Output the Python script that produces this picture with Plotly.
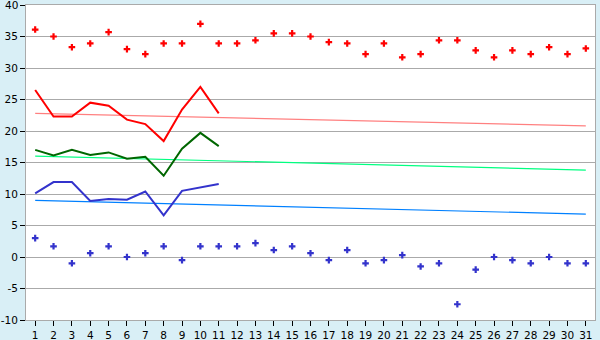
import plotly.graph_objects as go

days = list(range(1, 32))
max_temp = [36.1, 35.0, 33.3, 33.9, 35.7, 33.0, 32.2, 33.9, 33.9, 37.0,
            33.9, 33.9, 34.4, 35.5, 35.5, 35.0, 34.1, 33.9, 32.2, 33.9,
            31.7, 32.2, 34.4, 34.4, 32.8, 31.7, 32.8, 32.2, 33.3, 32.2, 33.1]
min_temp = [3.0, 1.7, -1.0, 0.6, 1.7, 0.0, 0.6, 1.7, -0.5, 1.7,
            1.7, 1.7, 2.2, 1.1, 1.7, 0.6, -0.5, 1.1, -1.0, -0.5,
            0.3, -1.5, -1.0, -7.5, -2.0, 0.0, -0.5, -1.0, 0.0, -1.0, -1.0]
line_days = list(range(1, 12))
line_max = [26.5, 22.3, 22.3, 24.5, 24.0, 21.8, 21.1, 18.4, 23.4, 27.0, 22.8]
line_avg = [17.0, 16.1, 17.0, 16.2, 16.6, 15.6, 15.9, 12.9, 17.2, 19.7, 17.6]
line_min = [10.1, 11.9, 11.9, 8.9, 9.2, 9.1, 10.4, 6.6, 10.5, 11.1, 11.6]
trend_days = [1, 31]
trend_max = [22.8, 20.8]
trend_avg = [16.0, 13.8]
trend_min = [9.0, 6.8]
y_ticks = [-10, -5, 0, 5, 10, 15, 20, 25, 30, 35, 40]
y_top = y_ticks[-1]

fig = go.Figure()
fig.add_trace(go.Scatter(x=trend_days, y=trend_max, mode="lines",
                         line=dict(color="#ff8080", width=1.2)))
fig.add_trace(go.Scatter(x=trend_days, y=trend_avg, mode="lines",
                         line=dict(color="#00ff80", width=1.2)))
fig.add_trace(go.Scatter(x=trend_days, y=trend_min, mode="lines",
                         line=dict(color="#0080ff", width=1.2)))
fig.add_trace(go.Scatter(x=line_days, y=line_max, mode="lines",
                         line=dict(color="#ff0000", width=2)))
fig.add_trace(go.Scatter(x=line_days, y=line_avg, mode="lines",
                         line=dict(color="#006600", width=2)))
fig.add_trace(go.Scatter(x=line_days, y=line_min, mode="lines",
                         line=dict(color="#3333cc", width=2)))
fig.add_trace(go.Scatter(x=days, y=max_temp, mode="markers",
                         marker=dict(symbol="cross", size=5.5, color="#ff0000",
                                     line=dict(width=0))))
fig.add_trace(go.Scatter(x=days, y=min_temp, mode="markers",
                         marker=dict(symbol="cross", size=5.5, color="#3333cc",
                                     line=dict(width=0))))

font = dict(family="DejaVu Sans", size=10.5, color="#000000")
fig.update_layout(
    width=600, height=340,
    margin=dict(l=26, r=5, t=5, b=20, autoexpand=False),
    paper_bgcolor="#d9eff6",
    plot_bgcolor="#ffffff",
    showlegend=False,
    hovermode=False,
    font=font,
)
# top tick label drawn as text (plotly hides it at the figure edge)
fig.add_annotation(text=str(y_top), x=0, xref="paper", y=y_top, yref="y",
                   xanchor="right", yanchor="middle", xshift=-6,
                   showarrow=False, font=font)
fig.update_xaxes(
    range=[0.5, 31.5], tickmode="array", tickvals=days,
    ticktext=[str(d) for d in days],
    showgrid=False, zeroline=False, automargin=False,
    showline=True, linecolor="#aaaaaa", linewidth=1, mirror=True,
    ticks="outside", ticklen=5, tickcolor="#000000", tickwidth=1,
)
fig.update_yaxes(
    range=[-10, 40], tickmode="array", tickvals=y_ticks,
    ticktext=[str(v) if v != y_top else "" for v in y_ticks],
    showgrid=True, gridcolor="#aaaaaa", gridwidth=1, zeroline=False,
    automargin=False,
    showline=True, linecolor="#aaaaaa", linewidth=1, mirror=True,
    ticks="outside", ticklen=5, tickcolor="#000000", tickwidth=1,
)

fig.write_html("out.html")
